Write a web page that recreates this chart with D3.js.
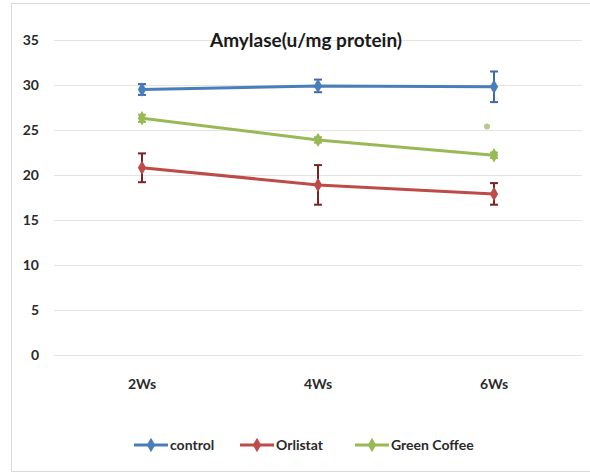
<!DOCTYPE html>
<html>
<head>
<meta charset="utf-8">
<script src="https://cdn.jsdelivr.net/npm/d3@7"></script>
<style>
  html, body { margin: 0; padding: 0; background: #fff; }
  svg { display: block; font-family: Lato, "Open Sans", sans-serif; }
</style>
</head>
<body>
<script>
// data
const weeks = ["2Ws", "4Ws", "6Ws"];
const seriesNames = ["control", "Orlistat", "Green Coffee"];
const controlValues = [29.5, 29.9, 29.8];
const controlErrors = [0.6, 0.7, 1.7];
const orlistatValues = [20.8, 18.9, 17.9];
const orlistatErrors = [1.6, 2.2, 1.2];
const coffeeValues = [26.3, 23.9, 22.2];
const coffeeErrors = [0.4, 0.3, 0.3];
const coffeeMark = [{ week: "6Ws", value: 25.4 }];
const yTicks = [0, 5, 10, 15, 20, 25, 30, 35];

const colors = ["#4a7ebb", "#be4b48", "#98b954"];
const errColors = ["#3d6aa5", "#7a2323", "#98b954"];

const series = seriesNames.map((name, i) => ({
  name,
  color: colors[i],
  errColor: errColors[i],
  values: [controlValues, orlistatValues, coffeeValues][i],
  errors: [controlErrors, orlistatErrors, coffeeErrors][i]
}));

const W = 590, H = 474;
const margin = { top: 40, right: 8, bottom: 119, left: 54 };
const width = W - margin.left - margin.right;
const height = H - margin.top - margin.bottom;

const svg = d3.create("svg")
  .attr("width", W)
  .attr("height", H);

// chart border
svg.append("rect")
  .attr("x", 11.5).attr("y", 3.5)
  .attr("width", W).attr("height", 468)
  .attr("fill", "#fff")
  .attr("stroke", "#d9d9d9");

const g = svg.append("g")
  .attr("transform", `translate(${margin.left},${margin.top})`);

const x = d3.scaleBand().domain(weeks).range([0, width]);
const y = d3.scaleLinear().domain([0, 35]).range([height, 0]);
const cx = w => x(w) + x.bandwidth() / 2;

// gridlines
g.append("g")
  .selectAll("line")
  .data(yTicks)
  .join("line")
  .attr("x1", 0).attr("x2", width)
  .attr("y1", d => Math.round(y(d)) + 0.5)
  .attr("y2", d => Math.round(y(d)) + 0.5)
  .attr("stroke", "#e3e3e3");

// y axis
const gy = g.append("g")
  .call(d3.axisLeft(y).tickValues(yTicks).tickSize(0).tickPadding(15));
gy.select(".domain").remove();
gy.selectAll("text")
  .attr("font-family", "Lato, sans-serif")
  .attr("font-size", 14)
  .attr("font-weight", "bold")
  .attr("fill", "#2a2a2a");

// x axis
const gx = g.append("g")
  .attr("transform", `translate(0,${height})`)
  .call(d3.axisBottom(x).tickSize(0).tickPadding(24));
gx.select(".domain").remove();
gx.selectAll("text")
  .attr("font-family", "Lato, sans-serif")
  .attr("font-size", 14)
  .attr("font-weight", "bold")
  .attr("fill", "#2a2a2a");

// title
svg.append("text")
  .attr("x", 306)
  .attr("y", 47)
  .attr("text-anchor", "middle")
  .attr("font-size", 19)
  .attr("font-weight", "bold")
  .attr("fill", "#1a1a1a")
  .text("Amylase(u/mg protein)");

const line = d3.line()
  .x((d, i) => cx(weeks[i]))
  .y(d => y(d));

const diamond = d3.symbol().type(d3.symbolDiamond).size(60);

series.forEach(s => {
  const sg = g.append("g");
  sg.append("path")
    .attr("d", line(s.values))
    .attr("fill", "none")
    .attr("stroke", s.color)
    .attr("stroke-width", 3);

  // error bars
  const eb = sg.selectAll(".err")
    .data(s.values.map((v, i) => ({ week: weeks[i], v, e: s.errors[i] })))
    .join("g")
    .attr("stroke", s.errColor)
    .attr("stroke-width", 2);
  eb.append("line")
    .attr("x1", d => cx(d.week)).attr("x2", d => cx(d.week))
    .attr("y1", d => y(d.v + d.e)).attr("y2", d => y(d.v - d.e));
  eb.append("line")
    .attr("x1", d => cx(d.week) - 4).attr("x2", d => cx(d.week) + 4)
    .attr("y1", d => y(d.v + d.e)).attr("y2", d => y(d.v + d.e));
  eb.append("line")
    .attr("x1", d => cx(d.week) - 4).attr("x2", d => cx(d.week) + 4)
    .attr("y1", d => y(d.v - d.e)).attr("y2", d => y(d.v - d.e));

  sg.selectAll(".pt")
    .data(s.values)
    .join("path")
    .attr("transform", (d, i) => `translate(${cx(weeks[i])},${y(d)})`)
    .attr("d", diamond())
    .attr("fill", s.color);
});

// small marker near green coffee at 6Ws
g.selectAll(".mark")
  .data(coffeeMark)
  .join("circle")
  .attr("cx", d => cx(d.week) - 7)
  .attr("cy", d => y(d.value))
  .attr("r", 3)
  .attr("fill", "#b5c98a");

// legend
const legendX = [134, 240, 355];
const legend = svg.append("g");
series.forEach((s, i) => {
  const lg = legend.append("g").attr("transform", `translate(${legendX[i]},445)`);
  lg.append("line")
    .attr("x1", 0).attr("x2", 34)
    .attr("stroke", s.color).attr("stroke-width", 3);
  lg.append("path")
    .attr("transform", "translate(17,0)")
    .attr("d", diamond())
    .attr("fill", s.color);
  lg.append("text")
    .attr("x", 36).attr("y", 5)
    .attr("font-size", 14)
    .attr("font-weight", "bold")
    .attr("fill", "#2a2a2a")
    .text(s.name);
});

document.body.append(svg.node());
</script>
</body>
</html>
